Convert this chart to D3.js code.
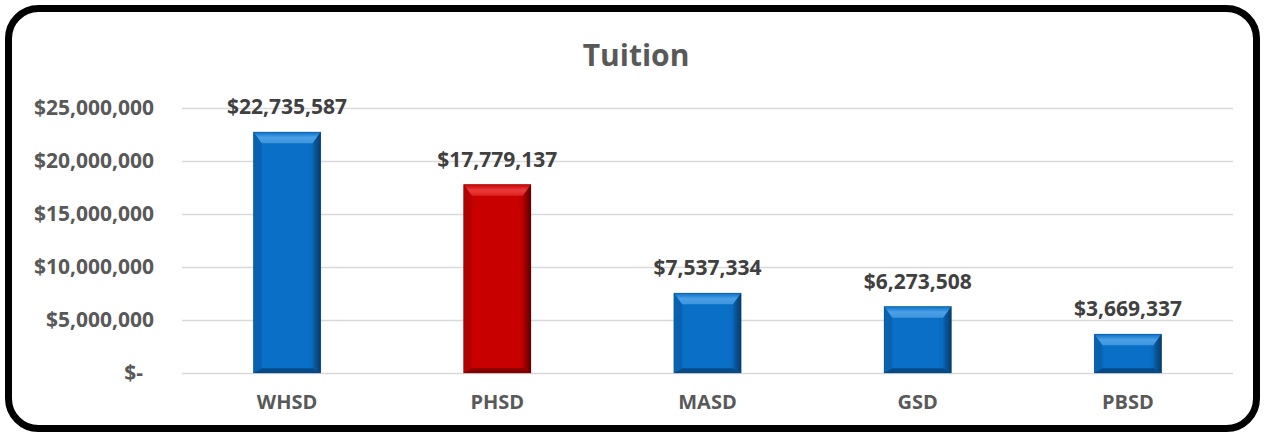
<!DOCTYPE html>
<html>
<head>
<meta charset="utf-8">
<script src="https://cdn.jsdelivr.net/npm/d3@7"></script>
<style>
  html, body { margin: 0; padding: 0; background: #fff; }
  svg { display: block; font-family: "Open Sans", sans-serif; }
</style>
</head>
<body>
<svg id="chart" width="1265" height="435"></svg>
<script>
// Tuition by district
const districts = ["WHSD", "PHSD", "MASD", "GSD", "PBSD"];
const tuition = [22735587, 17779137, 7537334, 6273508, 3669337];
const highlighted = ["PHSD"];
const yTicks = [0, 5000000, 10000000, 15000000, 20000000, 25000000];

const svg = d3.select("#chart");
const W = 1265, H = 435;
const margin = { left: 182, right: 32, top: 108, bottom: 62 };
const FONT = "'Open Sans', sans-serif";

// Rounded frame
svg.append("rect")
  .attr("x", 8.5).attr("y", 8.5)
  .attr("width", W - 17).attr("height", H - 15)
  .attr("rx", 30).attr("ry", 30)
  .attr("fill", "#fff")
  .attr("stroke", "#000").attr("stroke-width", 7);

const x = d3.scaleBand()
  .domain(districts)
  .range([margin.left, W - margin.right])
  .paddingInner(0.68).paddingOuter(0.34);

const y = d3.scaleLinear()
  .domain([0, 25000000])
  .range([H - margin.bottom, margin.top]);

// Title
svg.append("text")
  .attr("x", 636).attr("y", 66)
  .attr("text-anchor", "middle")
  .attr("font-family", FONT)
  .attr("font-size", 30).attr("font-weight", 700)
  .attr("fill", "#595959")
  .text("Tuition");

// Gridlines and y axis
const fmtTick = v => v === 0 ? "$-" : "$" + d3.format(",")(v);
const yAxis = d3.axisLeft(y)
  .tickValues(yTicks)
  .tickSize(-(W - margin.right - margin.left))
  .tickPadding(28)
  .tickFormat(fmtTick);

const gy = svg.append("g")
  .attr("transform", `translate(${margin.left},0)`)
  .call(yAxis);
gy.select(".domain").remove();
gy.selectAll(".tick line").attr("stroke", "#d9d9d9").attr("stroke-width", 1.5);
gy.selectAll(".tick text")
  .attr("fill", "#595959")
  .attr("font-size", 21).attr("font-weight", 700)
  .attr("font-family", FONT);
gy.selectAll(".tick").filter(d => d === 0).select("text").attr("dx", -11);

// X axis labels
const gx = svg.append("g")
  .attr("transform", `translate(0,${y(0)})`)
  .call(d3.axisBottom(x).tickSize(0).tickPadding(22));
gx.select(".domain").remove();
gx.selectAll(".tick text")
  .attr("fill", "#595959")
  .attr("font-size", 20).attr("font-weight", 700)
  .attr("font-family", FONT);

// Bevelled bars
const palettes = {
  blue: { face: "#0a6fc6", light: "#3f95dd", top: "#4aa0e6", dark: "#0a3a66", side: "#0862b0", bottom: "#06457d" },
  red:  { face: "#c80000", light: "#e02020", top: "#ea3c3c", dark: "#5a0000", side: "#b20000", bottom: "#7a0000" }
};

const defs = svg.append("defs");
Object.entries(palettes).forEach(([k, p]) => {
  const g = defs.append("linearGradient").attr("id", "face-" + k)
    .attr("x1", 0).attr("x2", 1).attr("y1", 0).attr("y2", 0);
  g.append("stop").attr("offset", "0%").attr("stop-color", p.side);
  g.append("stop").attr("offset", "15%").attr("stop-color", p.face);
  g.append("stop").attr("offset", "80%").attr("stop-color", p.face);
  g.append("stop").attr("offset", "100%").attr("stop-color", p.side);
  const r = defs.append("linearGradient").attr("id", "right-" + k)
    .attr("x1", 0).attr("x2", 1).attr("y1", 0).attr("y2", 0);
  r.append("stop").attr("offset", "0%").attr("stop-color", p.side);
  r.append("stop").attr("offset", "100%").attr("stop-color", p.dark);
  const t = defs.append("linearGradient").attr("id", "top-" + k)
    .attr("x1", 0).attr("x2", 0).attr("y1", 0).attr("y2", 1);
  t.append("stop").attr("offset", "0%").attr("stop-color", p.face);
  t.append("stop").attr("offset", "50%").attr("stop-color", p.top);
  t.append("stop").attr("offset", "100%").attr("stop-color", p.light);
});

const data = districts.map((d, i) => ({ name: d, value: tuition[i], pal: highlighted.includes(d) ? "red" : "blue" }));
const bevel = 8;

const bars = svg.append("g").selectAll("g").data(data).join("g");

bars.each(function (d) {
  const g = d3.select(this);
  const x0 = x(d.name), w = x.bandwidth();
  const y0 = y(d.value), y1 = y(0);
  const h = y1 - y0;
  const b = Math.min(bevel, h / 3);
  const p = palettes[d.pal];
  // main face
  g.append("rect").attr("x", x0).attr("y", y0).attr("width", w).attr("height", h)
    .attr("fill", `url(#face-${d.pal})`);
  // top bevel
  g.append("path")
    .attr("d", `M${x0},${y0}L${x0 + w},${y0}L${x0 + w - b},${y0 + b * 1.4}L${x0 + b},${y0 + b * 1.4}Z`)
    .attr("fill", `url(#top-${d.pal})`);
  // right bevel
  g.append("path")
    .attr("d", `M${x0 + w},${y0}L${x0 + w},${y1}L${x0 + w - b},${y1 - b * 0.6}L${x0 + w - b},${y0 + b * 1.4}Z`)
    .attr("fill", `url(#right-${d.pal})`);
  // bottom bevel
  g.append("path")
    .attr("d", `M${x0},${y1}L${x0 + w},${y1}L${x0 + w - b},${y1 - b * 0.6}L${x0 + b},${y1 - b * 0.6}Z`)
    .attr("fill", p.bottom).attr("opacity", 0.85);
  // left bevel
  g.append("path")
    .attr("d", `M${x0},${y0}L${x0 + b},${y0 + b * 1.4}L${x0 + b},${y1 - b * 0.6}L${x0},${y1}Z`)
    .attr("fill", p.side);
  g.append("rect").attr("x", x0).attr("y", y0).attr("width", w).attr("height", h)
    .attr("fill", "none").attr("stroke", p.dark).attr("stroke-opacity", 0.35).attr("stroke-width", 0.8);
});

// Value labels
svg.append("g").selectAll("text").data(data).join("text")
  .attr("x", d => x(d.name) + x.bandwidth() / 2)
  .attr("y", d => y(d.value) - 18)
  .attr("text-anchor", "middle")
  .attr("font-family", FONT)
  .attr("font-size", 21).attr("font-weight", 700)
  .attr("fill", "#404040")
  .text(d => "$" + d3.format(",")(d.value));
</script>
</body>
</html>
